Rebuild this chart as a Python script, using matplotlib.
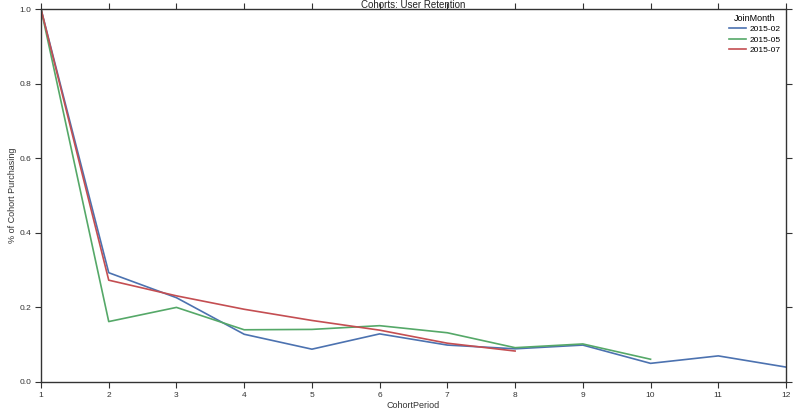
import matplotlib
matplotlib.use("Agg")
import matplotlib.pyplot as plt

periods_02 = [1, 2, 3, 4, 5, 6, 7, 8, 9, 10, 11, 12]
vals_02 = [1.0, 0.293, 0.226, 0.128, 0.088, 0.129, 0.099, 0.089, 0.099, 0.050, 0.070, 0.040]
periods_05 = [1, 2, 3, 4, 5, 6, 7, 8, 9, 10]
vals_05 = [1.0, 0.162, 0.200, 0.140, 0.141, 0.151, 0.132, 0.092, 0.102, 0.061]
periods_07 = [1, 2, 3, 4, 5, 6, 7, 8]
vals_07 = [1.0, 0.273, 0.231, 0.195, 0.165, 0.139, 0.104, 0.083]
labels = ["2015-02", "2015-05", "2015-07"]
colors = ["#4C72B0", "#55A868", "#C44E52"]
xticks = list(range(1, 13))
yticks = [0.0, 0.2, 0.4, 0.6, 0.8, 1.0]

plt.rcParams['font.family'] = ['Liberation Sans', 'DejaVu Sans']

fig = plt.figure(figsize=(8, 4.12), dpi=100)
ax = fig.add_axes([41/800, 1-382/412, (786-41)/800, (382-9)/412])

for xs, ys, lab, c in zip([periods_02, periods_05, periods_07],
                          [vals_02, vals_05, vals_07], labels, colors):
    ax.plot(xs, ys, color=c, lw=1.2, label=lab)

ax.set_xlim(1, 12)
ax.set_ylim(0, 1.0)
ax.set_xticks(xticks)
ax.set_xticklabels([str(t) for t in xticks])
ax.set_yticks(yticks)
ax.set_yticklabels([f"{t:.1f}" for t in yticks])
ax.tick_params(direction='out', length=4, width=0.8, color='#333333',
               labelsize=6, labelcolor='#333333', top=True, right=True,
               pad=3)
for s in ax.spines.values():
    s.set_color('#333333')
    s.set_linewidth(1.0)

ax.set_xlabel("CohortPeriod", fontsize=6.5, color='#333333', labelpad=2)
ax.set_ylabel("% of Cohort Purchasing", fontsize=6.5, color='#333333', labelpad=2)
ax.set_title("Cohorts: User Retention", fontsize=7, color='#222222', pad=0.5)

leg = ax.legend(title="JoinMonth", loc='upper right', frameon=False,
                fontsize=6, title_fontsize=6.5, handlelength=2.0,
                handletextpad=0.5, borderaxespad=0.2, labelspacing=0.3)

fig.savefig("out.png", dpi=100)
